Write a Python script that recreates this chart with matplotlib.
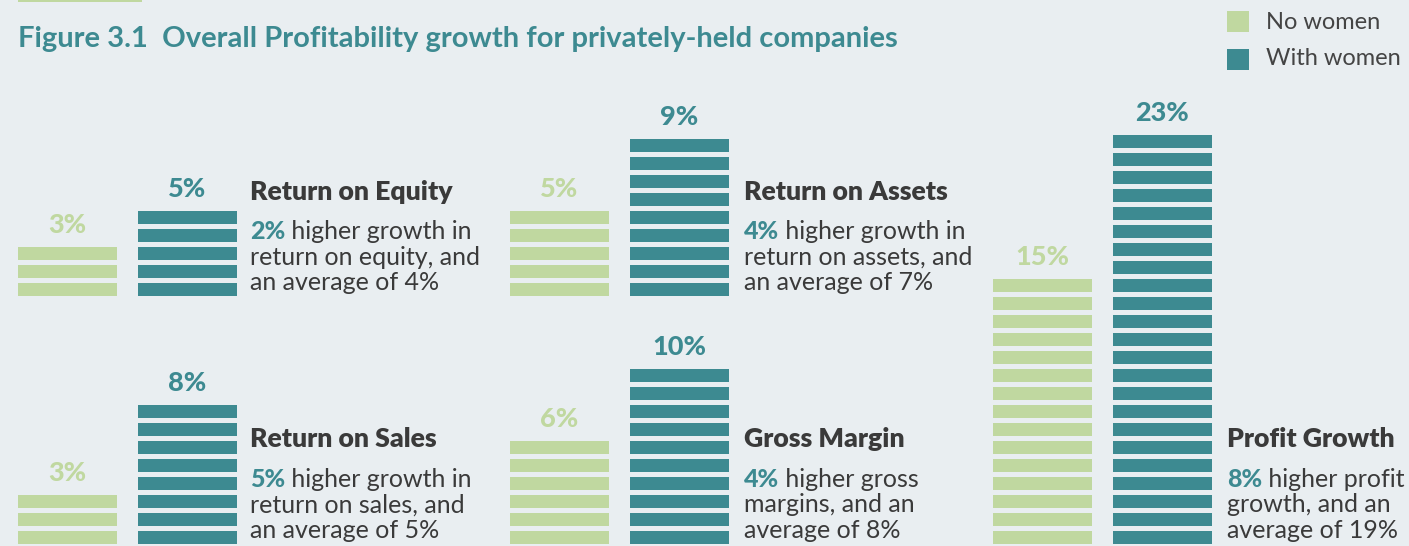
import matplotlib
matplotlib.use("Agg")
import matplotlib.pyplot as plt
from matplotlib.patches import Rectangle

# data
categories = ["Return on Equity", "Return on Assets", "Return on Sales", "Gross Margin", "Profit Growth"]
no_women = [3, 5, 3, 6, 15]
with_women = [5, 9, 8, 10, 23]
gap_text = ["2%", "4%", "5%", "4%", "8%"]
first_line = [" higher growth in", " higher growth in", " higher growth in", " higher gross", " higher profit"]
other_lines = [
    ["return on equity, and", "an average of 4%"],
    ["return on assets, and", "an average of 7%"],
    ["return on sales, and", "an average of 5%"],
    ["margins, and an", "average of 8%"],
    ["growth, and an", "average of 19%"],
]
legend_labels = ["No women", "With women"]

GREEN = "#c0d8a0"
TEAL = "#3d8a91"
BG = "#e9eef1"
DARK = "#3a3a3a"
FONT = "Lato"

W, H = 1409, 546
fig = plt.figure(figsize=(W / 100, H / 100), dpi=100, facecolor=BG)


def fx(x):
    return x / W


def fy(y):
    return 1 - y / H


# panel layout in pixels: (axes left, bar baseline, text x)
panels = [(7.5, 295.5, 250), (499.5, 295.5, 744), (7.5, 543.5, 250),
          (499.5, 543.5, 744), (982.5, 543.5, 1227)]
UNIT = 18.0   # px per percent step
SEG = 13.0 / UNIT
YMAX = 25
BODY = 18

for i, (left, base, tx) in enumerate(panels):
    ax = fig.add_axes([fx(left), fy(base), 240 / W, YMAX * UNIT / H])
    ax.set_xlim(-0.5, 1.5)
    ax.set_ylim(0, YMAX)
    ax.axis("off")
    ax.patch.set_alpha(0)
    for x, val, col in [(0, no_women[i], GREEN), (1, with_women[i], TEAL)]:
        ax.bar([x] * val, SEG, bottom=range(val), width=99 / 120, color=col, linewidth=0)
        ax.annotate(f"{val}%", xy=(x, val - 1 + SEG), xytext=(0, 10), textcoords="offset points",
                    ha="center", va="baseline", fontsize=19.5, fontweight="black",
                    color=col, family=FONT)

    # text block
    if base < 400:
        hb, b1 = 200, 239
    else:
        hb, b1 = 447, 487
    fig.text(fx(tx), fy(hb), categories[i], fontsize=19.2, fontweight="heavy",
             color=DARK, family=FONT, va="baseline")
    t = fig.text(fx(tx), fy(b1), gap_text[i], fontsize=BODY, fontweight="black",
                 color=TEAL, family=FONT, va="baseline")
    ax.annotate(first_line[i], xy=(1, 0), xycoords=t, fontsize=BODY, color=DARK,
                family=FONT, va="bottom", ha="left", annotation_clip=False)
    for k, line in enumerate(other_lines[i]):
        fig.text(fx(tx), fy(b1 + 25.5 * (k + 1)), line, fontsize=BODY, color=DARK,
                 family=FONT, va="baseline")

# title
fig.text(fx(18), fy(47), "Figure 3.1  Overall Profitability growth for privately-held companies",
         fontsize=21, fontweight="bold", color=TEAL, family=FONT, va="baseline")
fig.add_artist(Rectangle((fx(18), fy(2)), fx(124), 2 / H, transform=fig.transFigure,
                         color=GREEN, linewidth=0))

# legend
for j, (lab, col) in enumerate(zip(legend_labels, [GREEN, TEAL])):
    top = 11 + 38 * j
    fig.add_artist(Rectangle((fx(1227), fy(top + 21)), 22 / W, 21 / H,
                             transform=fig.transFigure, color=col, linewidth=0))
    fig.text(fx(1266), fy(29 + 36 * j), lab, fontsize=17, color="#444444",
             family=FONT, va="baseline")

fig.savefig("out.png", dpi=100, facecolor=BG)
